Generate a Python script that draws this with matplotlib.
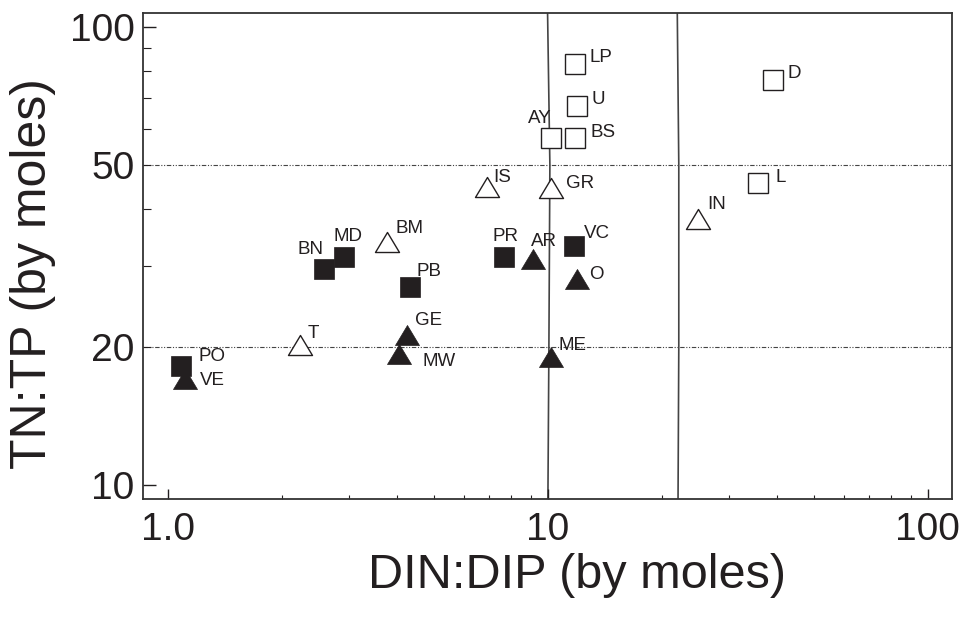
import numpy as np
from matplotlib import pyplot as plt
from matplotlib.path import Path
from matplotlib.ticker import FixedLocator, FixedFormatter, NullFormatter

plt.rcParams['font.family'] = ['Liberation Sans', 'DejaVu Sans']

#--------------------data
filled_sq_names = ["PO", "BN", "MD", "PB", "PR", "VC"]
filled_sq_x = [1.08, 2.58, 2.91, 4.33, 7.68, 11.7]
filled_sq_y = [18.2, 29.6, 31.5, 27.0, 31.5, 33.3]

filled_tri_names = ["VE", "GE", "MW", "AR", "O", "ME"]
filled_tri_x = [1.11, 4.27, 4.06, 9.13, 11.9, 10.2]
filled_tri_y = [17.0, 21.3, 19.3, 31.2, 28.1, 19.0]

open_tri_names = ["T", "BM", "IS", "GR", "IN"]
open_tri_x = [2.22, 3.77, 6.91, 10.2, 24.9]
open_tri_y = [20.2, 34.0, 44.7, 44.5, 38.1]

open_sq_names = ["LP", "U", "AY", "BS", "D", "L"]
open_sq_x = [11.8, 11.9, 10.2, 11.8, 39.1, 35.7]
open_sq_y = [83.0, 67.2, 57.2, 57.2, 76.6, 45.6]

# the two near-vertical reference curves
curve1_x = [9.98, 10.12, 10.06, 10.0]
curve1_y = [107, 50, 20, 9.3]
curve2_x = [21.9, 22.1, 22.1, 22.0]
curve2_y = [107, 50, 20, 9.3]

hlines_y = [50, 20]

# label offsets (pixels, left edge of text / vertical centre)
label_off = {
    "PO": (18, 9), "BN": (-27, 20), "MD": (-11, 20), "PB": (7, 16), "PR": (-12, 20), "VC": (10, 12),
    "VE": (15, -1), "GE": (8, 14), "MW": (23, -7), "AR": (-2, 17), "O": (13, 5), "ME": (7, 12),
    "T": (8, 12), "BM": (9, 13), "IS": (6, 10), "GR": (15, 5), "IN": (9, 14),
    "LP": (14, 7), "U": (15, 7), "AY": (-23, 20), "BS": (15, 6), "D": (15, 7), "L": (18, 6),
}

dark = "#231f20"
tri = Path([(-0.6, -0.5), (0.6, -0.5), (0.0, 0.5), (-0.6, -0.5)],
           [Path.MOVETO, Path.LINETO, Path.LINETO, Path.CLOSEPOLY])

fig = plt.figure(figsize=(9.72, 6.19), dpi=100)
ax = fig.add_axes([143/972, 1 - 499/619, (952-143)/972, (499-13)/619])
ax.set_xscale('log')
ax.set_yscale('log')
ax.set_xlim(0.86, 115.7)
ax.set_ylim(9.32, 107.3)

for yv in hlines_y:
    ax.axhline(yv, color="#444444", lw=0.8, ls=(0, (4, 1.5, 1, 1.5, 1, 1.5)), zorder=1)
ax.plot(curve1_x, curve1_y, color="#444444", lw=1.2, zorder=1)
ax.plot(curve2_x, curve2_y, color="#444444", lw=1.2, zorder=1)

ms_sq = 14.4
ms_tri = 17.3
ax.plot(open_sq_x, open_sq_y, ls='none', marker='s', ms=ms_sq, mfc='white', mec=dark, mew=1.0, zorder=3)
ax.plot(open_tri_x, open_tri_y, ls='none', marker=tri, ms=ms_tri, mfc='white', mec=dark, mew=1.0, zorder=3)
ax.plot(filled_sq_x, filled_sq_y, ls='none', marker='s', ms=ms_sq, mfc=dark, mec=dark, mew=0.5, zorder=3)
ax.plot(filled_tri_x, filled_tri_y, ls='none', marker=tri, ms=ms_tri, mfc=dark, mec=dark, mew=0.5, zorder=4)

groups = [(filled_sq_names, filled_sq_x, filled_sq_y),
          (filled_tri_names, filled_tri_x, filled_tri_y),
          (open_tri_names, open_tri_x, open_tri_y),
          (open_sq_names, open_sq_x, open_sq_y)]
for names, xs, ys in groups:
    for n, xv, yv in zip(names, xs, ys):
        dx, dy = label_off[n]
        ax.annotate(n, (xv, yv), xytext=(dx, dy), textcoords='offset pixels',
                    ha='left', va='center', fontsize=13.5, color=dark, zorder=5)

# ticks
ax.xaxis.set_major_locator(FixedLocator([1, 10, 100]))
ax.xaxis.set_major_formatter(FixedFormatter(["1.0", "10", "100"]))
ax.xaxis.set_minor_locator(FixedLocator([2, 3, 4, 5, 6, 7, 8, 9, 20, 30, 40, 50, 60, 70, 80, 90]))
ax.xaxis.set_minor_formatter(NullFormatter())
ax.yaxis.set_major_locator(FixedLocator([10, 100]))
ax.yaxis.set_major_formatter(FixedFormatter(["10", "100"]))
ax.yaxis.set_minor_locator(FixedLocator([20, 30, 40, 50, 60, 70, 80, 90]))
ax.yaxis.set_minor_formatter(FixedFormatter(["20", "", "", "50", "", "", "", ""]))

ax.tick_params(axis='x', which='major', direction='in', length=7.2, width=1.0, color=dark,
               labelsize=28, labelcolor=dark, pad=9, top=False)
ax.tick_params(axis='x', which='minor', direction='in', length=3, width=0.8, color=dark, top=False)
ax.tick_params(axis='y', which='major', direction='in', length=9.4, width=1.0, color=dark,
               labelsize=28, labelcolor=dark, pad=6, right=False)
ax.tick_params(axis='y', which='minor', direction='in', length=5.8, width=0.8, color=dark,
               labelsize=28, labelcolor=dark, pad=6, right=False)

for sp in ax.spines.values():
    sp.set_color("#333333")
    sp.set_linewidth(1.3)

ax.set_xlabel("DIN:DIP (by moles)", fontsize=35, color=dark, labelpad=4)
ax.set_ylabel("TN:TP (by moles)", fontsize=36, color=dark, labelpad=10)
ax.xaxis.label.set_x(0.536)
ax.yaxis.label.set_y(0.463)

fig.savefig("out.png", dpi=100)
